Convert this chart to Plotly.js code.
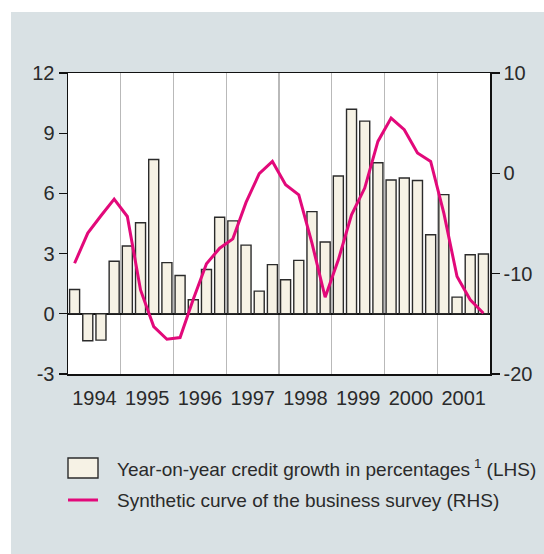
<!DOCTYPE html>
<html>
<head>
<meta charset="utf-8">
<script src="https://cdn.plot.ly/plotly-3.0.1.min.js"></script>
<style>
  html, body { margin: 0; padding: 0; background: #ffffff; }
  #wrap { position: relative; width: 544px; height: 554px; overflow: hidden; }
  #panel { position: absolute; left: 11px; top: 12px; width: 533px; height: 542px; background: #d9e1e4; }
  #chart { position: absolute; left: 0; top: 0; width: 544px; height: 554px; }
</style>
</head>
<body>
<div id="wrap">
  <div id="panel"></div>
  <div id="chart"></div>
</div>
<script>
// Calendar years on the x axis, each split into four quarters
var years = [1994, 1995, 1996, 1997, 1998, 1999, 2000, 2001];
var quarters = [1, 2, 3, 4];

// Year-on-year credit growth, percent (left axis), one value per quarter
var creditGrowth = [
  1.21, -1.34, -1.31, 2.62,
  3.38, 4.54, 7.69, 2.55,
  1.91, 0.70, 2.21, 4.81,
  4.63, 3.42, 1.13, 2.45,
  1.70, 2.66, 5.09, 3.58,
  6.87, 10.19, 9.60, 7.53,
  6.67, 6.77, 6.64, 3.94,
  5.94, 0.83, 2.94, 2.98
];

// Synthetic business-survey curve (right axis), one value per quarter
var surveyCurve = [
  -8.96, -5.96, -4.23, -2.57,
  -4.30, -11.62, -15.27, -16.54,
  -16.37, -12.55, -9.02, -7.46,
  -6.53, -2.90, -0.04, 1.19,
  -1.14, -2.14, -6.96, -12.35,
  -8.62, -4.13, -1.47, 3.18,
  5.51, 4.35, 2.03, 1.19,
  -3.97, -10.29, -12.61, -13.94
];

var leftTicks = [-3, 0, 3, 6, 9, 12];
var rightTicks = [-20, -10, 0, 10];
var yearLabels = years.map(String);

var legendLabels = [
  'Year-on-year credit growth in percentages\u2009<sup>1</sup> (LHS)',
  'Synthetic curve of the business survey (RHS)'
];

// quarter midpoints expressed as fractional years
var xq = [];
years.forEach(function (y) {
  quarters.forEach(function (q) { xq.push(y + (q - 0.5) / 4); });
});
var yearMid = years.map(function (y) { return y + 0.5; });

var W = 544, H = 554;
var plotL = 68, plotR = 490, plotT = 73, plotB = 374;
function px(x) { return (x - plotL) / (plotR - plotL); }
function py(y) { return (plotB - y) / (plotB - plotT); }

var textColor = '#2a2a2a';
var barFill = '#f6f2e5';
var barLine = '#2b2b2b';
var curveColor = '#e2097a';
var fontFam = '"Liberation Sans", Arial, sans-serif';

var traces = [
  {
    type: 'bar',
    x: xq,
    y: creditGrowth,
    width: 0.19,
    marker: { color: barFill, line: { color: barLine, width: 1.4 } },
    yaxis: 'y',
    hoverinfo: 'x+y'
  },
  {
    type: 'scatter',
    mode: 'lines',
    x: xq,
    y: surveyCurve,
    line: { color: curveColor, width: 3 },
    yaxis: 'y2',
    hoverinfo: 'x+y'
  }
];

var layout = {
  width: W,
  height: H,
  paper_bgcolor: 'rgba(0,0,0,0)',
  plot_bgcolor: '#ffffff',
  showlegend: false,
  margin: { l: plotL, r: W - plotR, t: plotT, b: H - plotB, pad: 0 },
  font: { family: fontFam, size: 20, color: textColor },
  xaxis: {
    range: [years[0], years[years.length - 1] + 1],
    tickmode: 'array',
    tickvals: yearMid,
    ticktext: yearLabels,
    ticks: '',
    showgrid: false,
    zeroline: false,
    showline: true,
    linecolor: '#111',
    linewidth: 1.5,
    mirror: true,
    ticklabelstandoff: 5,
    minor: {
      tickmode: 'linear',
      tick0: years[0],
      dtick: 1,
      showgrid: true,
      gridcolor: '#b9b9b9',
      gridwidth: 1.2,
      ticks: ''
    },
    fixedrange: true
  },
  yaxis: {
    range: [leftTicks[0], leftTicks[leftTicks.length - 1]],
    tickmode: 'array',
    tickvals: leftTicks,
    ticktext: leftTicks.map(String),
    ticks: 'outside',
    ticklen: 8,
    tickwidth: 1.3,
    tickcolor: '#111',
    showgrid: false,
    zeroline: true,
    zerolinecolor: '#111',
    zerolinewidth: 2,
    showline: true,
    linecolor: '#111',
    linewidth: 1.5,
    fixedrange: true
  },
  yaxis2: {
    overlaying: 'y',
    side: 'right',
    range: [rightTicks[0], rightTicks[rightTicks.length - 1]],
    tickmode: 'array',
    tickvals: rightTicks,
    ticktext: rightTicks.map(String),
    ticks: 'outside',
    ticklen: 8,
    tickwidth: 1.3,
    tickcolor: '#111',
    showgrid: false,
    zeroline: false,
    showline: true,
    linecolor: '#111',
    linewidth: 1.5,
    fixedrange: true
  },
  shapes: [
    {
      type: 'rect', xref: 'paper', yref: 'paper',
      x0: px(68), x1: px(98), y0: py(458), y1: py(478),
      fillcolor: barFill, line: { color: barLine, width: 1.4 }
    },
    {
      type: 'line', xref: 'paper', yref: 'paper',
      x0: px(68), x1: px(98), y0: py(500), y1: py(500),
      line: { color: curveColor, width: 3 }
    }
  ],
  annotations: [
    {
      xref: 'paper', yref: 'paper', x: px(115), y: py(468),
      xanchor: 'left', yanchor: 'middle', showarrow: false,
      text: legendLabels[0], font: { family: fontFam, size: 19, color: textColor }
    },
    {
      xref: 'paper', yref: 'paper', x: px(115), y: py(500),
      xanchor: 'left', yanchor: 'middle', showarrow: false,
      text: legendLabels[1], font: { family: fontFam, size: 19, color: textColor }
    }
  ]
};

Plotly.newPlot('chart', traces, layout, { displayModeBar: false, staticPlot: true });
</script>
</body>
</html>
